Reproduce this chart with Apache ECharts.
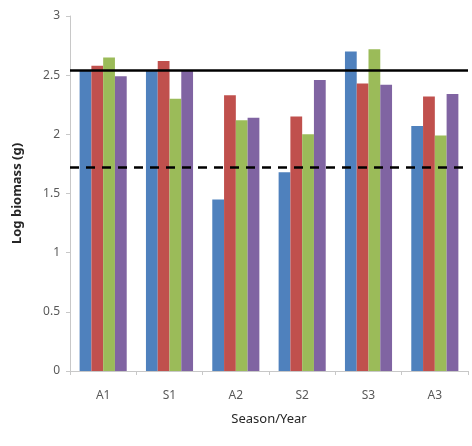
<!DOCTYPE html>
<html><head><meta charset="utf-8">
<script src="https://cdn.jsdelivr.net/npm/echarts@6/dist/echarts.min.js"></script>
<style>html,body{margin:0;padding:0;background:#fff}#c{width:472px;height:446px}</style>
</head><body><div id="c"></div>
<script>
const categories = ['A1','S1','A2','S2','S3','A3'];
const blueValues   = [2.54, 2.54, 1.45, 1.68, 2.70, 2.07];
const redValues    = [2.58, 2.62, 2.33, 2.15, 2.43, 2.32];
const greenValues  = [2.65, 2.30, 2.12, 2.00, 2.72, 1.99];
const purpleValues = [2.49, 2.54, 2.14, 2.46, 2.42, 2.34];
const solidLineValue = 2.54;
const dashedLineValue = 1.72;
const yTicks = [0, 0.5, 1, 1.5, 2, 2.5, 3];

const colors = ['#4F81BD','#C0504D','#9BBB59','#8064A2'];
const font = 'Noto Sans';
const chart = echarts.init(document.getElementById('c'));
const mk = (name, data, color, extra) => Object.assign({
  name, type: 'bar', data, barGap: '0%', barCategoryGap: '29%',
  itemStyle: { color }, animation: false
}, extra || {});
chart.setOption({
  animation: false,
  grid: { left: 70, right: 4, top: 16, bottom: 75 },
  xAxis: {
    type: 'category', data: categories,
    name: 'Season/Year', nameLocation: 'middle', nameGap: 42,
    nameTextStyle: { fontFamily: font, fontSize: 13, color: '#262626' },
    axisLine: { lineStyle: { color: '#c8c8c8' } },
    axisTick: { show: true, length: 4, lineStyle: { color: '#c8c8c8' } },
    axisLabel: { fontFamily: font, fontSize: 12, color: '#595959', margin: 19 }
  },
  yAxis: {
    type: 'value', min: yTicks[0], max: yTicks[yTicks.length-1], interval: 0.5,
    name: 'Log biomass (g)', nameLocation: 'middle', nameGap: 46,
    nameTextStyle: { fontFamily: font, fontSize: 13, fontWeight: 'bold', color: '#262626' },
    axisLine: { show: true, lineStyle: { color: '#c8c8c8' } },
    axisTick: { show: true, length: 4, lineStyle: { color: '#c8c8c8' } },
    splitLine: { show: false },
    axisLabel: { fontFamily: font, fontSize: 12, color: '#595959', margin: 10 }
  },
  series: [
    mk('s1', blueValues, colors[0], {
      markLine: {
        silent: true, symbol: 'none', label: { show: false },
        data: [
          { yAxis: solidLineValue, lineStyle: { color: '#000', width: 2.5, type: 'solid' } },
          { yAxis: dashedLineValue, lineStyle: { color: '#000', width: 2.5, type: [9, 7] } }
        ]
      }
    }),
    mk('s2', redValues, colors[1]),
    mk('s3', greenValues, colors[2]),
    mk('s4', purpleValues, colors[3])
  ]
});
</script></body></html>
